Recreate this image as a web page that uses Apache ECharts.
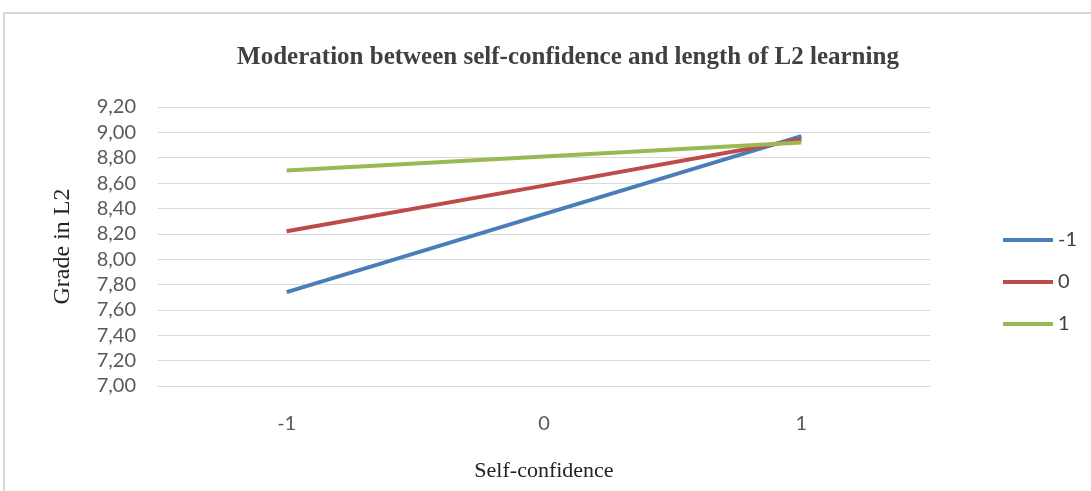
<!DOCTYPE html>
<html>
<head>
<meta charset="utf-8">
<style>
  html, body { margin: 0; padding: 0; background: #fff; }
  #chart { width: 1091px; height: 491px; }
</style>
<script src="https://cdn.jsdelivr.net/npm/echarts@6/dist/echarts.min.js"></script>
</head>
<body>
<div id="chart"></div>
<script>
// self-confidence levels on the x axis
var categories = ["-1", "0", "1"];
// one line per level of length of L2 learning
var seriesNames = ["-1", "0", "1"];
var lowLength = [7.74, 8.355, 8.97];
var midLength = [8.22, 8.58, 8.945];
var highLength = [8.70, 8.81, 8.92];
var colors = ["#4a7ebb", "#be4b48", "#98b954"];

var chart = echarts.init(document.getElementById("chart"));

function line(name, values, color) {
  return {
    name: name,
    type: "line",
    data: values,
    symbol: "none",
    lineStyle: { color: color, width: 4 },
    itemStyle: { color: color }
  };
}

chart.setOption({
  backgroundColor: "#ffffff",
  animation: false,
  graphic: [
    {
      type: "rect",
      shape: { x: 4, y: 13, width: 1300, height: 700 },
      style: { fill: "none", stroke: "#d9d9d9", lineWidth: 2 }
    }
  ],
  title: {
    text: "Moderation between self-confidence and length of L2 learning",
    left: 563,
    textAlign: "center",
    top: 40,
    textStyle: {
      fontFamily: "Liberation Serif",
      fontWeight: "bold",
      fontSize: 25,
      color: "#404040"
    }
  },
  legend: {
    orient: "vertical",
    left: 998,
    top: 225,
    itemWidth: 50,
    itemHeight: 4,
    itemGap: 22,
    icon: "rect",
    data: seriesNames,
    textStyle: { fontFamily: "Lato", fontSize: 20, color: "#404040" }
  },
  grid: { left: 158, right: 161, top: 107, bottom: 105 },
  xAxis: {
    type: "category",
    data: categories,
    boundaryGap: true,
    name: "Self-confidence",
    nameLocation: "middle",
    nameGap: 74,
    nameTextStyle: { fontFamily: "Liberation Serif", fontSize: 22, color: "#222" },
    axisLine: { lineStyle: { color: "#d9d9d9" } },
    axisTick: { show: false },
    axisLabel: { fontFamily: "Lato", fontSize: 20, color: "#595959", margin: 28 }
  },
  yAxis: {
    type: "value",
    min: 7,
    max: 9.2,
    interval: 0.2,
    name: "Grade in L2",
    nameLocation: "middle",
    nameGap: 83,
    nameTextStyle: { fontFamily: "Liberation Serif", fontSize: 24, color: "#222" },
    axisLine: { show: false },
    axisTick: { show: false },
    splitLine: { lineStyle: { color: "#d9d9d9" } },
    axisLabel: {
      fontFamily: "Lato",
      fontSize: 20,
      color: "#595959",
      margin: 22,
      formatter: function (v) { return v.toFixed(2).replace(".", ","); }
    }
  },
  series: [
    line(seriesNames[0], lowLength, colors[0]),
    line(seriesNames[1], midLength, colors[1]),
    line(seriesNames[2], highLength, colors[2])
  ]
});
</script>
</body>
</html>
